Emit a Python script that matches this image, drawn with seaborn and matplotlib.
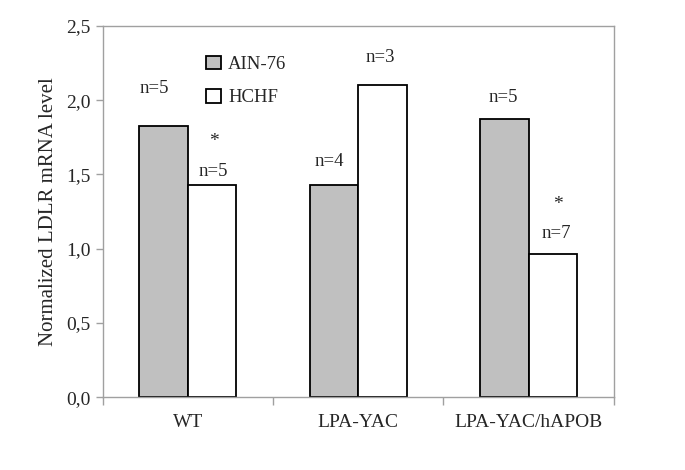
import pandas as pd
import matplotlib
matplotlib.use("Agg")
import matplotlib.pyplot as plt
import seaborn as sns

# values
groups = ["WT", "LPA-YAC", "LPA-YAC/hAPOB"]
diets = ["AIN-76", "HCHF"]
ain76 = [1.825, 1.428, 1.870]
hchf = [1.428, 2.103, 0.964]
n_ain76 = ["n=5", "n=4", "n=5"]
n_hchf = ["n=5", "n=3", "n=7"]
signif_hchf = ["*", "", "*"]
y_ticks = [0.0, 0.5, 1.0, 1.5, 2.0, 2.5]

df = pd.DataFrame({
    "group": groups * 2,
    "diet": [diets[0]] * 3 + [diets[1]] * 3,
    "value": ain76 + hchf,
})

sns.set_style("white")
plt.rcParams["font.family"] = ["Liberation Serif", "DejaVu Serif"]

fig = plt.figure(figsize=(6.85, 4.70), dpi=100)
ax = fig.add_axes([0.150, 0.155, 0.746, 0.790])

sns.barplot(data=df, x="group", y="value", hue="diet", order=groups,
            hue_order=diets, palette={"AIN-76": "#c0c0c0", "HCHF": "white"},
            width=0.57, edgecolor="black", linewidth=1.3, saturation=1,
            ax=ax, errorbar=None)

ax.set_xlim(-0.5, len(groups) - 0.5)
ax.set_ylim(y_ticks[0], y_ticks[-1])
ax.set_yticks(y_ticks)
ax.set_yticklabels([f"{t:.1f}".replace(".", ",") for t in y_ticks])
ax.set_ylabel("Normalized LDLR mRNA level", fontsize=15, labelpad=6)
ax.set_xlabel("")

# x ticks sit at the group boundaries
ax.set_xticks(range(len(groups)))
ax.set_xticklabels(groups)
ax.set_xticks([i - 0.5 for i in range(len(groups) + 1)], minor=True)
ax.tick_params(axis="x", which="major", length=0, labelsize=14, pad=12)
ax.tick_params(axis="x", which="minor", length=6, color="#a0a0a0", width=1,
               direction="out", bottom=True)
ax.tick_params(axis="y", length=5, color="#a0a0a0", width=1, direction="out",
               labelsize=14, left=True)

for side in ["left", "right", "top", "bottom"]:
    ax.spines[side].set_visible(True)
    ax.spines[side].set_color("#a0a0a0")
    ax.spines[side].set_linewidth(1)

# sample sizes and significance marks
ann_ain = [(-0.197, 2.08), (-0.17, 1.59), (-0.15, 2.02)]
ann_hchf = [(0.15, 1.52), (0.13, 2.29), (0.16, 1.10)]
star_pos = [(0.15, 1.72), None, (0.17, 1.30)]
for i in range(len(groups)):
    dx, y = ann_ain[i]
    ax.text(i + dx, y, n_ain76[i], ha="center", va="center", fontsize=13.5)
    dx, y = ann_hchf[i]
    ax.text(i + dx, y, n_hchf[i], ha="center", va="center", fontsize=13.5)
    if signif_hchf[i] and star_pos[i]:
        dx, y = star_pos[i]
        ax.text(i + dx, y, signif_hchf[i], ha="center", va="center", fontsize=14)

leg = ax.legend(loc="upper left", bbox_to_anchor=(0.17, 0.965), frameon=False,
                fontsize=13.5, handlelength=0.75, handleheight=0.75,
                labelspacing=0.85, handletextpad=0.4)
for h in leg.legend_handles:
    h.set_edgecolor("black")
    h.set_linewidth(1.3)

fig.savefig("out.png", dpi=100)
